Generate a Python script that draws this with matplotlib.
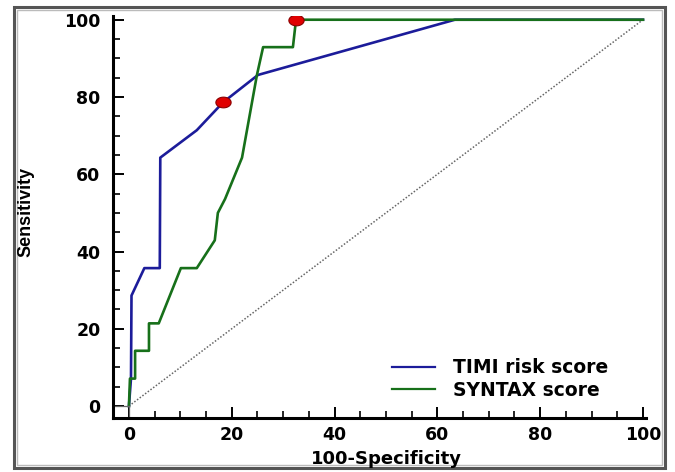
import numpy as np
import matplotlib
matplotlib.use('Agg')
import matplotlib.pyplot as plt
from matplotlib import font_manager
from matplotlib.patches import Rectangle

# ROC curves (100-Specificity, Sensitivity)
timi_x = [0, 0.4, 0.5, 3.0, 6.0, 6.1, 13.2, 18.3, 25.1, 63.4, 100]
timi_y = [0, 7.1, 28.6, 35.7, 35.7, 64.3, 71.4, 78.6, 85.7, 100, 100]
syntax_x = [0, 0.2, 1.2, 1.2, 3.9, 3.9, 5.8, 10.1, 13.2, 16.7, 17.3, 18.7, 22.0, 24.9, 26.1, 31.9, 32.5, 100]
syntax_y = [0, 7.1, 7.1, 14.3, 14.3, 21.4, 21.4, 35.7, 35.7, 42.9, 50.0, 53.6, 64.3, 85.7, 92.9, 92.9, 100, 100]
# optimal cut-off points
cut_x = [18.3, 32.5]
cut_y = [78.6, 100]
series_names = ['TIMI risk score', 'SYNTAX score']

narrow = 'Liberation Sans Narrow'
names = [f.name for f in font_manager.fontManager.ttflist]
if narrow not in names:
    narrow = 'Liberation Sans'

fig = plt.figure(figsize=(6.75, 4.72), dpi=100)
ax = fig.add_axes([0.1674, 0.1144, 0.789, 0.852])

ax.plot([0, 100], [0, 100], color='#666666', lw=1.1, ls=(0, (1, 1.2)))
ax.plot(timi_x, timi_y, color='#1c1c9a', lw=1.9, label=series_names[0])
ax.plot(syntax_x, syntax_y, color='#17701a', lw=1.9, label=series_names[1])

# elliptical marker for the cut-off points
t = np.linspace(0, 2 * np.pi, 40)
ell = np.column_stack([np.cos(t), 0.7 * np.sin(t)])
ax.plot(cut_x, cut_y, ls='none', marker=ell, ms=11, mfc='#e00000', mec='#8b0000', mew=0.8, zorder=5)

# small origin lines
ax.plot([-3.1, 0], [0, 0], color='#666666', lw=0.9)
ax.plot([0, 0], [-3.1, 0], color='#666666', lw=0.9)

ax.set_xlim(-3.1, 100.5)
ax.set_ylim(-3.1, 101)
ax.set_xticks(np.arange(0, 101, 20))
ax.set_yticks(np.arange(0, 101, 20))
ax.set_xticks(np.arange(0, 101, 5), minor=True)
ax.set_yticks(np.arange(0, 101, 5), minor=True)
ax.tick_params(which='major', direction='in', length=8, width=1.4, pad=6, labelsize=12.5)
ax.tick_params(which='minor', direction='in', length=5, width=1.2)
for lab in ax.get_xticklabels() + ax.get_yticklabels():
    lab.set_fontweight('bold')
ax.tick_params(axis='y', pad=9)

for s in ['top', 'right']:
    ax.spines[s].set_visible(False)
for s in ['left', 'bottom']:
    ax.spines[s].set_linewidth(2.2)

fig.text(386 / 675, 1 - 459 / 472, '100-Specificity', ha='center', va='center',
         fontsize=13, fontweight='bold')
fig.text(26 / 675, 1 - 212 / 472, 'Sensitivity', ha='center', va='center', rotation=90,
         fontsize=13, fontweight='bold', family=[narrow, 'DejaVu Sans'])

leg = ax.legend(loc='center left', bbox_to_anchor=(392 / 675, 1 - 379 / 472),
                bbox_transform=fig.transFigure, frameon=False, borderpad=0, borderaxespad=0,
                prop={'weight': 'bold', 'size': 13.5}, handlelength=2.3,
                labelspacing=0.17, handletextpad=0.96)
for line in leg.get_lines():
    line.set_linewidth(1.6)

# outer frame of the figure
fig.patches.append(Rectangle((14 / 675, 1 - 468 / 472), 651 / 675, 461 / 472,
                             transform=fig.transFigure, fill=False, ec='#555555', lw=2.2))
fig.patches.append(Rectangle((17 / 675, 1 - 465 / 472), 645 / 675, 455 / 472,
                             transform=fig.transFigure, fill=False, ec='#bbbbbb', lw=1.0))

fig.savefig('out.png', dpi=100)
